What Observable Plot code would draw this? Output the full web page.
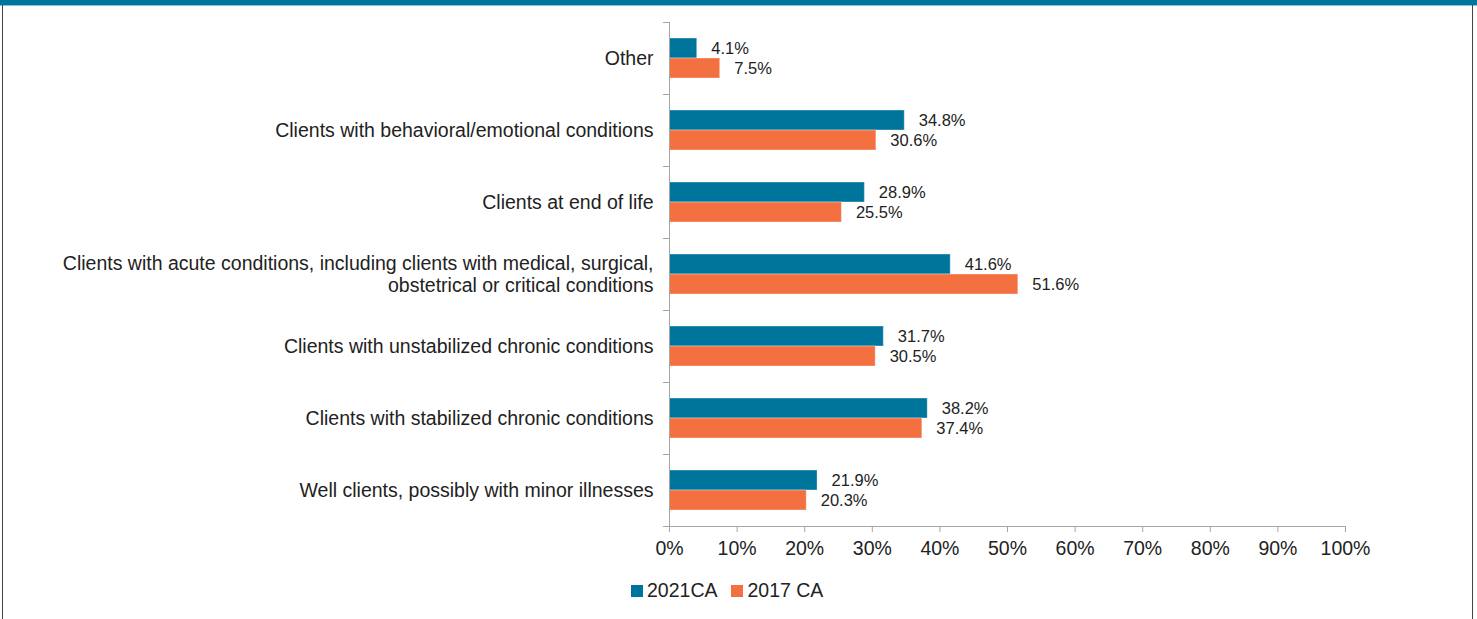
<!DOCTYPE html>
<html><head><meta charset="utf-8">
<script src="https://cdn.jsdelivr.net/npm/d3@7"></script>
<script src="https://cdn.jsdelivr.net/npm/@observablehq/plot@0.6"></script>
<style>
html,body{margin:0;padding:0;background:#fff;}
#wrap{position:relative;width:1477px;height:619px;overflow:hidden;font-family:"Liberation Sans Narrow","Liberation Sans",sans-serif;}
#topbar{position:absolute;left:0;top:0;width:1477px;height:5px;background:#00759b;border-bottom:1px solid #7fc6dc;}
#lb{position:absolute;left:2px;top:5px;width:1px;height:614px;background:#444;}
#rb{position:absolute;left:1472px;top:5px;width:1px;height:614px;background:#444;}
#legend{position:absolute;top:579px;left:631px;font-size:19.5px;color:#222;display:flex;align-items:center;}
.sw{display:inline-block;width:12px;height:12px;margin-right:4px;}
.it{display:flex;align-items:center;margin-right:14px;}
</style></head>
<body><div id="wrap"><div id="chart"></div><div id="topbar"></div><div id="lb"></div><div id="rb"></div>
<div id="legend"><span class="it"><span class="sw" style="background:#00759b"></span>2021CA</span><span class="it"><span class="sw" style="background:#f37040"></span>2017 CA</span></div>
</div>
<script>
const categories = [
  "Other",
  "Clients with behavioral/emotional conditions",
  "Clients at end of life",
  "Clients with acute conditions, including clients with medical, surgical,\nobstetrical or critical conditions",
  "Clients with unstabilized chronic conditions",
  "Clients with stabilized chronic conditions",
  "Well clients, possibly with minor illnesses"
];
const series2021 = [4.1, 34.8, 28.9, 41.6, 31.7, 38.2, 21.9];
const series2017 = [7.5, 30.6, 25.5, 51.6, 30.5, 37.4, 20.3];
const xTicks = [0,10,20,30,40,50,60,70,80,90,100];
const seriesNames = ["2021CA", "2017 CA"];
const colors = ["#00759b", "#f37040"];

const d2021 = categories.map((c,i)=>({cat:c, v:series2021[i], s:seriesNames[0]}));
const d2017 = categories.map((c,i)=>({cat:c, v:series2017[i], s:seriesNames[1]}));
const axisColor = "#a6a6a6";
const tickLen = 0.9;

const chart = Plot.plot({
  width: 1477, height: 619,
  marginLeft: 669, marginRight: 132, marginTop: 22, marginBottom: 93,
  style: {fontFamily: '"Liberation Sans Narrow","Liberation Sans",sans-serif', background: "transparent"},
  x: {domain: [0,100], axis: null},
  y: {domain: categories, padding: 0, axis: null},
  marks: [
    Plot.barX(d2021, {y:"cat", x:"v", fill: colors[0], insetTop: 16, insetBottom: 36, stroke:"#ffffff", strokeOpacity:0.35, strokeWidth:1}),
    Plot.barX(d2017, {y:"cat", x:"v", fill: colors[1], insetTop: 36, insetBottom: 16, stroke:"#ffffff", strokeOpacity:0.35, strokeWidth:1}),
    Plot.text(d2021, {y:"cat", x:"v", text: d=>d.v.toFixed(1)+"%", dx: 14, dy: -10, textAnchor:"start", fontSize: 16.5, fill:"#222"}),
    Plot.text(d2017, {y:"cat", x:"v", text: d=>d.v.toFixed(1)+"%", dx: 14, dy: 10, textAnchor:"start", fontSize: 16.5, fill:"#222"}),
    Plot.ruleX([0], {stroke: axisColor}),
    Plot.ruleY(categories, {y: d=>d, x1: -tickLen, x2: 0, dy: -36, stroke: axisColor}),
    Plot.ruleY([categories[categories.length-1]], {y: d=>d, x1: -tickLen, x2: 100, dy: 36, stroke: axisColor}),
    Plot.axisY({domain: categories, tickSize: 0, tickPadding: 16, fontSize: 19.5, lineHeight: 1.13, dy: -1, color: "#222", label: null}),
    Plot.axisX({ticks: xTicks, tickSize: 6, tickPadding: 9, tickFormat: d=>d+"%", fontSize: 19.5, stroke: axisColor, color:"#222", label: null})
  ]
});
document.getElementById("chart").appendChild(chart);
</script></body></html>
